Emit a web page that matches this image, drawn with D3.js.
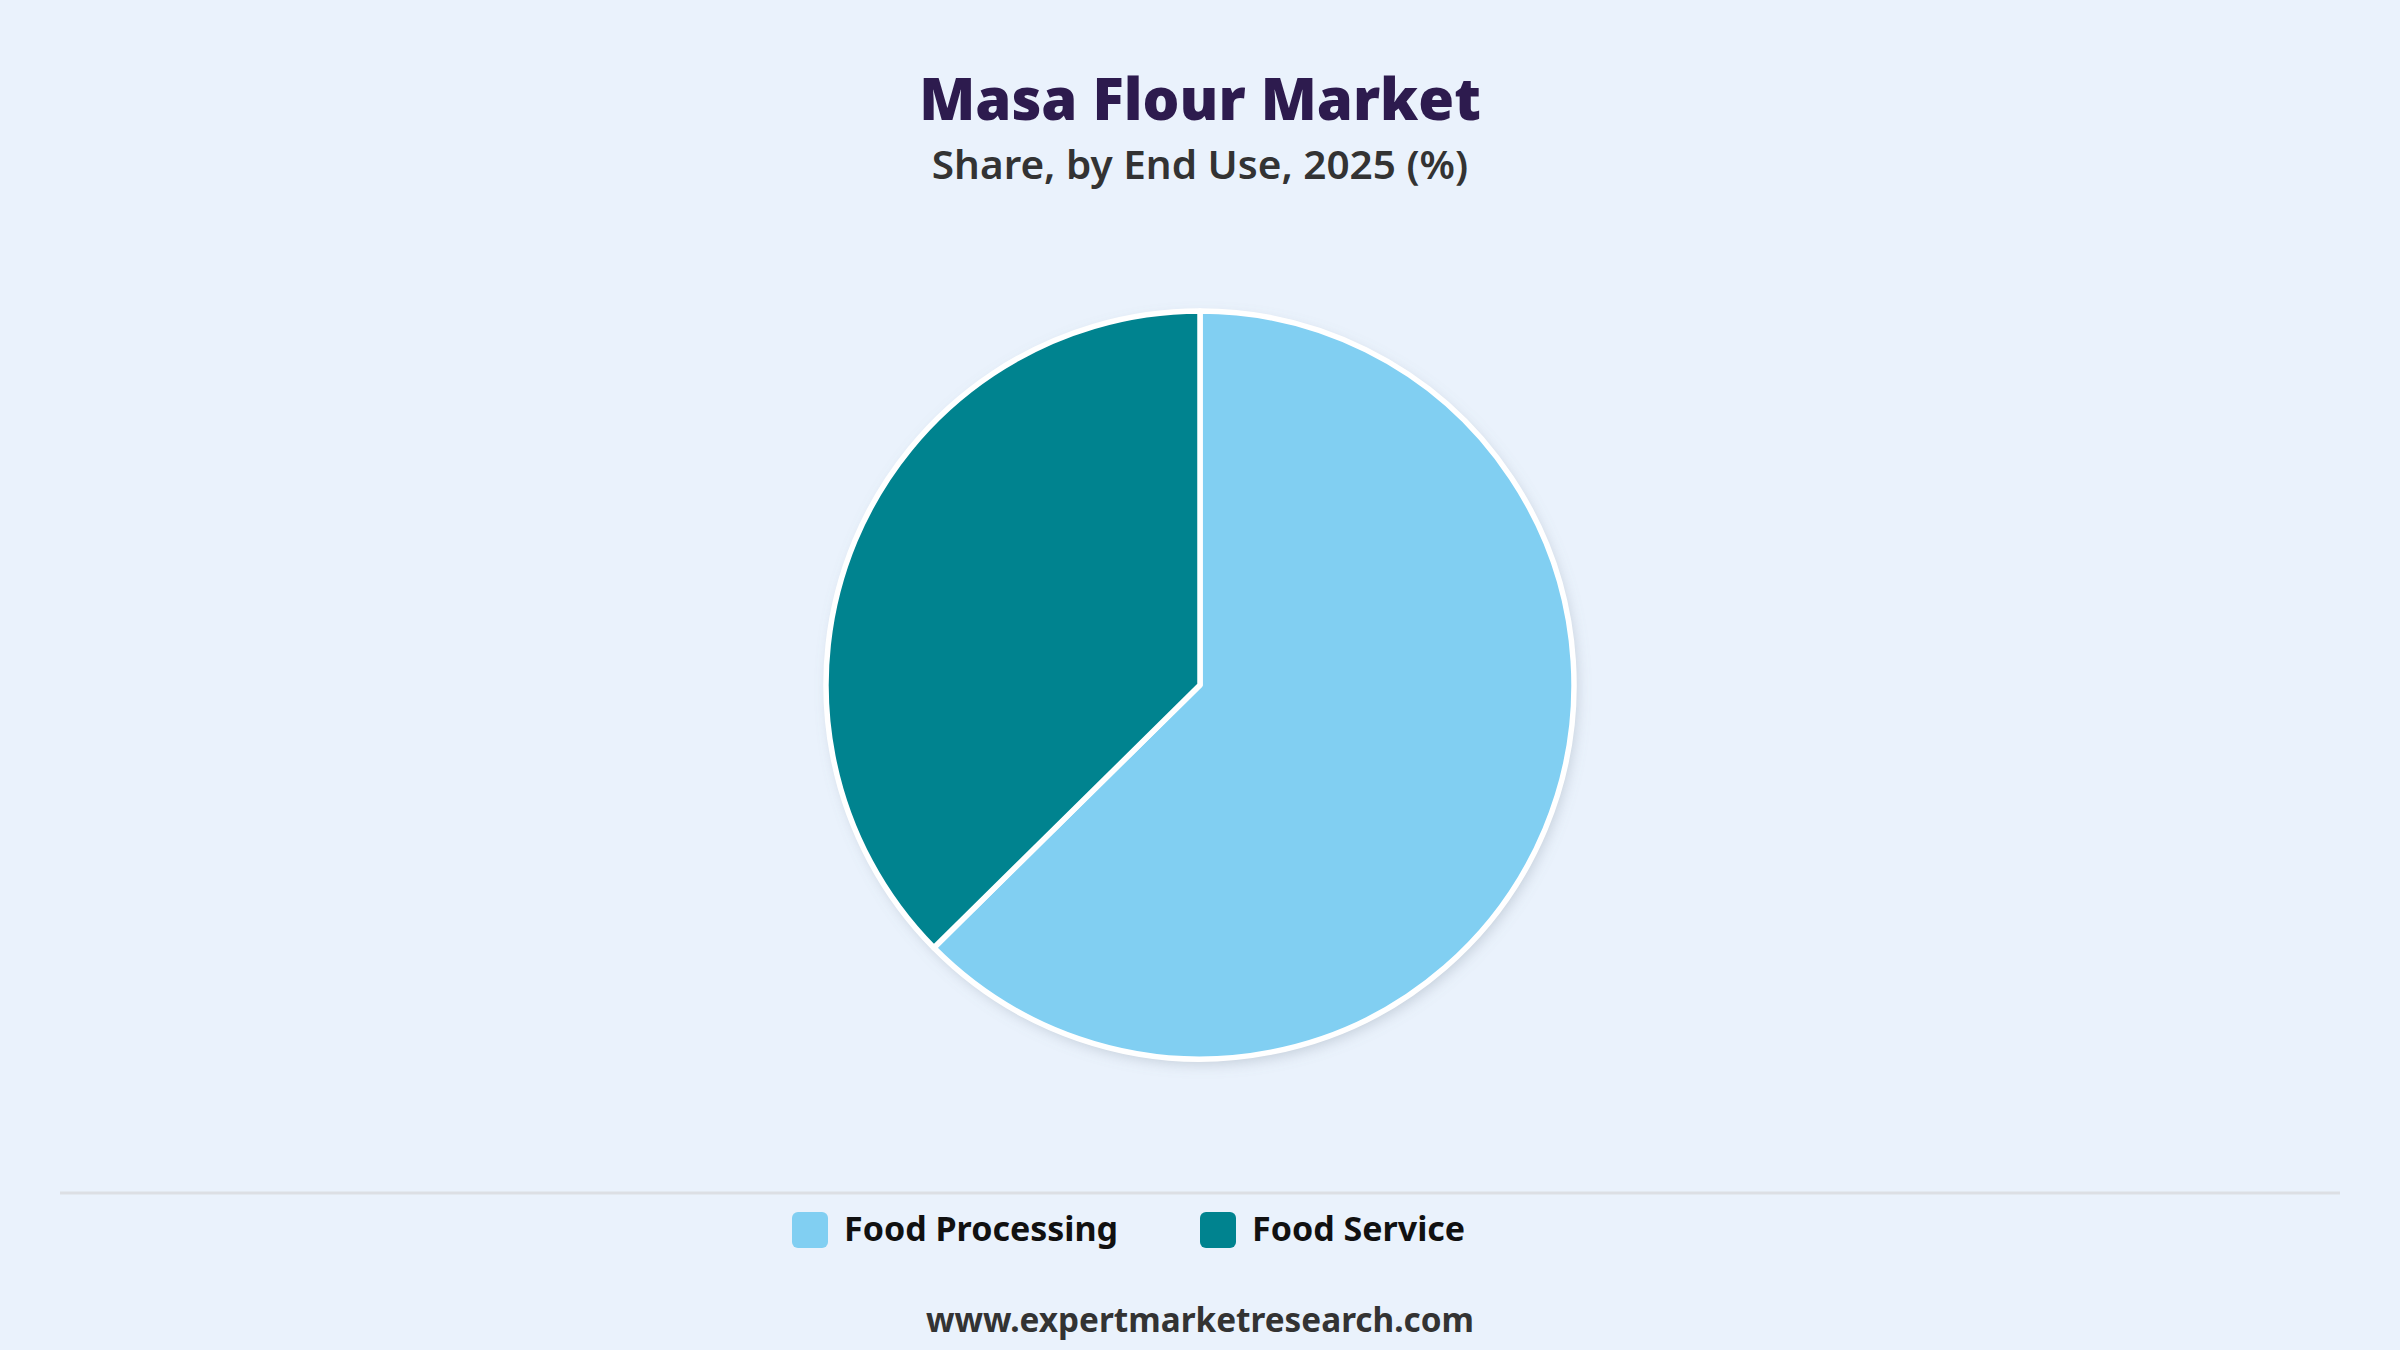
<!DOCTYPE html>
<html>
<head>
<meta charset="utf-8">
<script src="https://cdn.jsdelivr.net/npm/d3@7"></script>
<style>
  html, body { margin: 0; padding: 0; background: #eaf2fc; }
  svg { display: block; }
</style>
</head>
<body>
<div id="root"></div>
<script>
// Data
const categories = ["Food Processing", "Food Service"];
const shares = [62.6, 37.4];
const colours = ["#81cff2", "#00838f"];

const width = 2400, height = 1350;

const svg = d3.select("#root")
    .append("svg")
    .attr("width", width)
    .attr("height", height);

svg.append("rect")
    .attr("width", width)
    .attr("height", height)
    .attr("fill", "#eaf2fc");

// soft shadow under the pie
const defs = svg.append("defs");
const filter = defs.append("filter")
    .attr("id", "shadow")
    .attr("x", "-20%").attr("y", "-20%")
    .attr("width", "140%").attr("height", "140%");
filter.append("feDropShadow")
    .attr("dx", 3).attr("dy", 5)
    .attr("stdDeviation", 7)
    .attr("flood-color", "#7a8899")
    .attr("flood-opacity", 0.35);

// Titles
svg.append("text")
    .attr("x", width / 2)
    .attr("y", 120)
    .attr("text-anchor", "middle")
    .attr("font-family", "'Noto Sans', sans-serif")
    .attr("font-weight", 900)
    .attr("font-size", 58)
    .attr("fill", "#2d1b4e")
    .text("Masa Flour Market");

svg.append("text")
    .attr("x", width / 2)
    .attr("y", 179)
    .attr("text-anchor", "middle")
    .attr("font-family", "'Noto Sans', sans-serif")
    .attr("font-weight", 600)
    .attr("font-size", 40.5)
    .attr("fill", "#333333")
    .text("Share, by End Use, 2025 (%)");

// Pie
const cx = 1200, cy = 685, radius = 374;
const colour = d3.scaleOrdinal().domain(categories).range(colours);

const pie = d3.pie()
    .value(d => d.value)
    .sort(null);

const arc = d3.arc()
    .innerRadius(0)
    .outerRadius(radius);

const data = categories.map((c, i) => ({ name: c, value: shares[i] }));

const g = svg.append("g")
    .attr("transform", "translate(" + cx + "," + cy + ")");

g.append("circle")
    .attr("r", radius)
    .attr("fill", "#ffffff")
    .attr("filter", "url(#shadow)");

g.selectAll("path")
    .data(pie(data))
    .enter()
    .append("path")
    .attr("d", arc)
    .attr("fill", d => colour(d.data.name))
    .attr("stroke", "#ffffff")
    .attr("stroke-width", 5.5)
    .attr("stroke-linejoin", "round");

// Divider line
svg.append("line")
    .attr("x1", 60).attr("x2", 2340)
    .attr("y1", 1193).attr("y2", 1193)
    .attr("stroke", "#dcdfe4")
    .attr("stroke-width", 3);

// Legend
const legendX = [792, 1200];
const legend = svg.selectAll(".legend")
    .data(categories)
    .enter()
    .append("g")
    .attr("class", "legend")
    .attr("transform", (d, i) => "translate(" + legendX[i] + ",1212)");

legend.append("rect")
    .attr("width", 36)
    .attr("height", 36)
    .attr("rx", 6)
    .attr("fill", d => colour(d));

legend.append("text")
    .attr("x", 52)
    .attr("y", 29)
    .attr("font-family", "'Noto Sans', sans-serif")
    .attr("font-weight", 700)
    .attr("font-size", 34)
    .attr("fill", "#111111")
    .text(d => d);

// Footer
svg.append("text")
    .attr("x", width / 2)
    .attr("y", 1332)
    .attr("text-anchor", "middle")
    .attr("font-family", "'Noto Sans', sans-serif")
    .attr("font-weight", 700)
    .attr("font-size", 33.3)
    .attr("fill", "#333333")
    .text("www.expertmarketresearch.com");
</script>
</body>
</html>
